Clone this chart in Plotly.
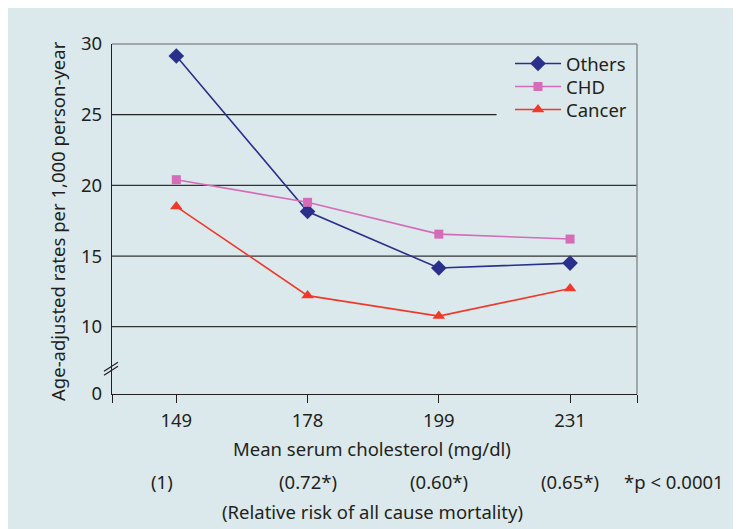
import plotly.graph_objects as go

categories = ["149", "178", "199", "231"]
others = [29.15, 18.15, 14.15, 14.5]
chd = [20.4, 18.8, 16.55, 16.2]
cancer = [18.5, 12.2, 10.75, 12.7]
rel_risk = ["(1)", "(0.72*)", "(0.60*)", "(0.65*)"]
rel_risk_offset = [-0.11, 0.0, 0.0, 0.0]
y_ticks = [10, 15, 20, 25, 30]
y_break_value = 5.24  # where the "0" tick sits after the axis break

BG = "#dce9ec"
TXT = "#231f20"
FONT = "Noto Sans"
TS = 18.5

# page has an 8px body margin: figure is 733x521 placed at (8, 8)
W, H = 733, 521
L, T, R, B = 104, 36, 104, 135
PW, PH = W - L - R, H - T - B


def px(xpic):
    return (xpic - 8 - L) / PW


def py(ypic):
    return (H - B - (ypic - 8)) / PH


xs = list(range(len(categories)))

fig = go.Figure()
fig.add_trace(go.Scatter(x=xs, y=others, name="Others", mode="lines+markers",
                         line=dict(color="#2b2f8c", width=1.6), legend="legend",
                         marker=dict(symbol="diamond", size=12, color="#2b2f8c")))
fig.add_trace(go.Scatter(x=xs, y=chd, name="CHD", mode="lines+markers",
                         line=dict(color="#d46cb8", width=1.6), legend="legend2",
                         marker=dict(symbol="square", size=9, color="#d46cb8")))
fig.add_trace(go.Scatter(x=xs, y=cancer, name="Cancer", mode="lines+markers",
                         line=dict(color="#ef3a2b", width=1.6), legend="legend3",
                         marker=dict(symbol="triangle-up", size=11, color="#ef3a2b")))

shapes = []
for v in [10, 15, 20]:
    shapes.append(dict(type="line", xref="paper", yref="y", x0=0, x1=1, y0=v, y1=v,
                       line=dict(color="#333333", width=1.2), layer="below"))
shapes.append(dict(type="line", xref="x", yref="y", x0=-0.49, x1=2.44, y0=25, y1=25,
                   line=dict(color="#222222", width=1.2), layer="below"))
shapes.append(dict(type="line", xref="paper", yref="paper", x0=0, x1=1, y0=1, y1=1,
                   line=dict(color="#8a8f91", width=1.5)))
shapes.append(dict(type="line", xref="paper", yref="paper", x0=1, x1=1, y0=0, y1=1,
                   line=dict(color="#8a8f91", width=1.5)))
for dy in [0, -4]:
    shapes.append(dict(type="line", xref="paper", xsizemode="pixel", xanchor=0,
                       yref="y", ysizemode="pixel", yanchor=7.2,
                       x0=-8, x1=6, y0=-5 + dy, y1=4 + dy,
                       line=dict(color=TXT, width=1.2)))

afont = dict(size=TS, color=TXT, family=FONT)
annotations = []


def ann(**kw):
    kw.setdefault("xanchor", "center")
    kw.setdefault("yanchor", "middle")
    kw.setdefault("showarrow", False)
    kw.setdefault("font", afont)
    annotations.append(kw)


for i, t in enumerate(rel_risk):
    ann(x=xs[i] + rel_risk_offset[i], xref="x", y=py(481), yref="paper", text=t)
ann(x=px(674), xref="paper", y=py(481), yref="paper", text="*p < 0.0001")
ann(x=px(372), xref="paper", y=py(448), yref="paper", text="Mean serum cholesterol (mg/dl)")
ann(x=px(372), xref="paper", y=py(511), yref="paper",
    text="(Relative risk of all cause mortality)")
ann(x=px(57), xref="paper", y=py(221), yref="paper",
    text="Age-adjusted rates per 1,000 person-year", textangle=-90)

lfont = dict(size=18.5, color=TXT, family=FONT)


def leg(ypic):
    return dict(x=px(510), y=py(ypic), xanchor="left", yanchor="middle",
                bgcolor="rgba(0,0,0,0)", font=lfont, itemwidth=46)


fig.update_layout(
    width=W, height=H,
    margin=dict(l=L, r=R, t=T, b=B),
    paper_bgcolor=BG, plot_bgcolor=BG,
    font=dict(family=FONT, size=18.5, color=TXT),
    showlegend=True,
    legend=leg(64), legend2=leg(87), legend3=leg(110),
    xaxis=dict(range=[-0.49, 3.51], tickmode="array",
               tickvals=[-0.49] + xs + [3.51], ticktext=[""] + categories + [""],
               ticks="outside", ticklen=8, tickcolor=TXT, tickwidth=1,
               ticklabelstandoff=2,
               showline=True, linecolor=TXT, linewidth=1.2,
               showgrid=False, zeroline=False, fixedrange=True),
    yaxis=dict(range=[y_break_value, 30], tickmode="array",
               tickvals=[y_break_value] + y_ticks,
               ticktext=["0"] + [str(v) for v in y_ticks],
               ticks="", ticklabelstandoff=5,
               showline=True, linecolor=TXT, linewidth=1.2,
               showgrid=False, zeroline=False, fixedrange=True),
    shapes=shapes,
    annotations=annotations,
)

fig.write_html("out.html")
